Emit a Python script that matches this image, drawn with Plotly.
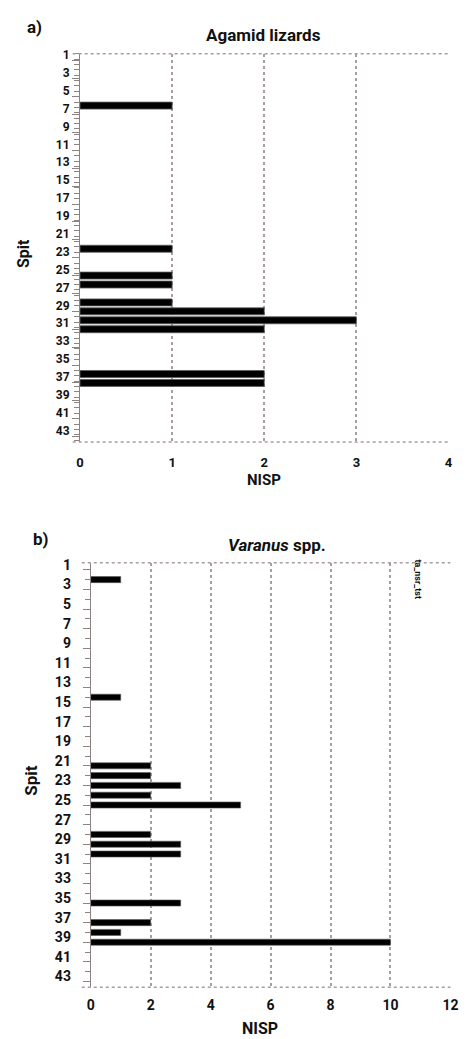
import plotly.graph_objects as go

# ---- data ----
agamid_spits = [6, 22, 25, 26, 28, 29, 30, 31, 36, 37]
agamid_nisp = [1, 1, 1, 1, 1, 2, 3, 2, 2, 2]
varanus_spits = [2, 14, 21, 22, 23, 24, 25, 28, 29, 30, 35, 37, 38, 39]
varanus_nisp = [1, 1, 2, 2, 3, 2, 5, 2, 3, 3, 3, 2, 1, 10]
spit_labels = list(range(1, 44, 2))
agamid_xticks = [0, 1, 2, 3, 4]
varanus_xticks = [0, 2, 4, 6, 8, 10, 12]

W, H = 475, 1039
FONT = "Roboto, Liberation Sans Narrow, DejaVu Sans, sans-serif"
GRID = "#a89e9e"
AX = "#8c8282"

def px_x(v):
    return v / W

def px_y(v):
    return 1 - v / H

fig = go.Figure()
fig.add_trace(go.Bar(
    x=agamid_nisp, y=agamid_spits, orientation="h", xaxis="x", yaxis="y",
    width=0.78, marker=dict(color="black", line=dict(color="#5a5a5a", width=0.8)),
    showlegend=False,
))
fig.add_trace(go.Bar(
    x=varanus_nisp, y=varanus_spits, orientation="h", xaxis="x2", yaxis="y2",
    width=0.62, marker=dict(color="black", line=dict(color="#5a5a5a", width=0.6)),
    showlegend=False,
))

a_dom_x = [px_x(78), px_x(456)]
a_dom_y = [px_y(438.5), px_y(48)]
b_dom_x = [px_x(89), px_x(458)]
b_dom_y = [px_y(987), px_y(560)]

common_x = dict(showgrid=True, gridcolor=GRID, griddash="dot", gridwidth=1.5,
                zeroline=False, showline=False, ticks="")
common_y = dict(showgrid=False, zeroline=False, showline=True, linecolor=AX,
                linewidth=1, ticks="outside", ticklen=7, tickcolor=AX,
                tickwidth=1)

fig.update_layout(
    width=W, height=H, margin=dict(l=0, r=0, t=0, b=0),
    plot_bgcolor="white", paper_bgcolor="white",
    xaxis=dict(domain=a_dom_x, range=[0, 4], tickvals=agamid_xticks,
               anchor="y", ticklabelstandoff=11,
               tickfont=dict(family=FONT, size=13, color="#111", weight="bold"),
               **common_x),
    yaxis=dict(domain=a_dom_y, range=[43.6, 0.2], tickvals=spit_labels,
               anchor="x", ticklabelshift=6,
               tickfont=dict(family=FONT, size=12, color="#111", weight="bold"),
               minor=dict(dtick=0.6, tick0=0.2, ticks="outside", ticklen=5,
                          tickcolor=AX, showgrid=False),
               **common_y),
    xaxis2=dict(domain=b_dom_x, range=[0, 12], tickvals=varanus_xticks,
                anchor="y2", ticklabelstandoff=8,
                tickfont=dict(family=FONT, size=14, color="#111", weight="bold"),
                **common_x),
    yaxis2=dict(domain=b_dom_y, range=[43.6, 0.28], tickvals=spit_labels,
                anchor="x2", ticklabelshift=5, ticklabelstandoff=9,
                tickfont=dict(family=FONT, size=14, color="#111", weight="bold"),
                minor=dict(dtick=1, ticks="outside", ticklen=5,
                           tickcolor=AX, showgrid=False),
                **common_y),
)

# frame lines (dotted top / bottom borders)
shapes = []
for xr, yr, x0 in [("x domain", "y domain", -0.02), ("x2 domain", "y2 domain", -0.025)]:
    for yy in (0, 1):
        shapes.append(dict(type="line", xref=xr, yref=yr, x0=x0, x1=1, y0=yy, y1=yy,
                           line=dict(color=GRID, width=1.5, dash="dot")))
fig.update_layout(shapes=shapes)

ann = []
def text(x, y, s, size, angle=0, color="#111"):
    ann.append(dict(x=px_x(x), y=px_y(y), xref="paper", yref="paper", text=s,
                    showarrow=False, textangle=angle,
                    font=dict(family=FONT, size=size, color=color),
                    xanchor="center", yanchor="middle"))

text(31, 21, "<b>a)</b>", 17)
text(266, 29, "<b>Agamid lizards</b>", 17)
text(267, 477, "<b>NISP</b>", 15)
text(20, 249, "<b>Spit</b>", 16, angle=-90)

text(38, 536, "<b>b)</b>", 17)
text(280, 542, "<b><i>Varanus</i> spp.</b>", 17)
text(263, 1028, "<b>NISP</b>", 16)
text(27, 779, "<b>Spit</b>", 17, angle=-90)
text(425, 577, "<b>ta_nsr_tst</b>", 9, angle=90)

fig.update_layout(annotations=ann)
fig.write_html("out.html")
